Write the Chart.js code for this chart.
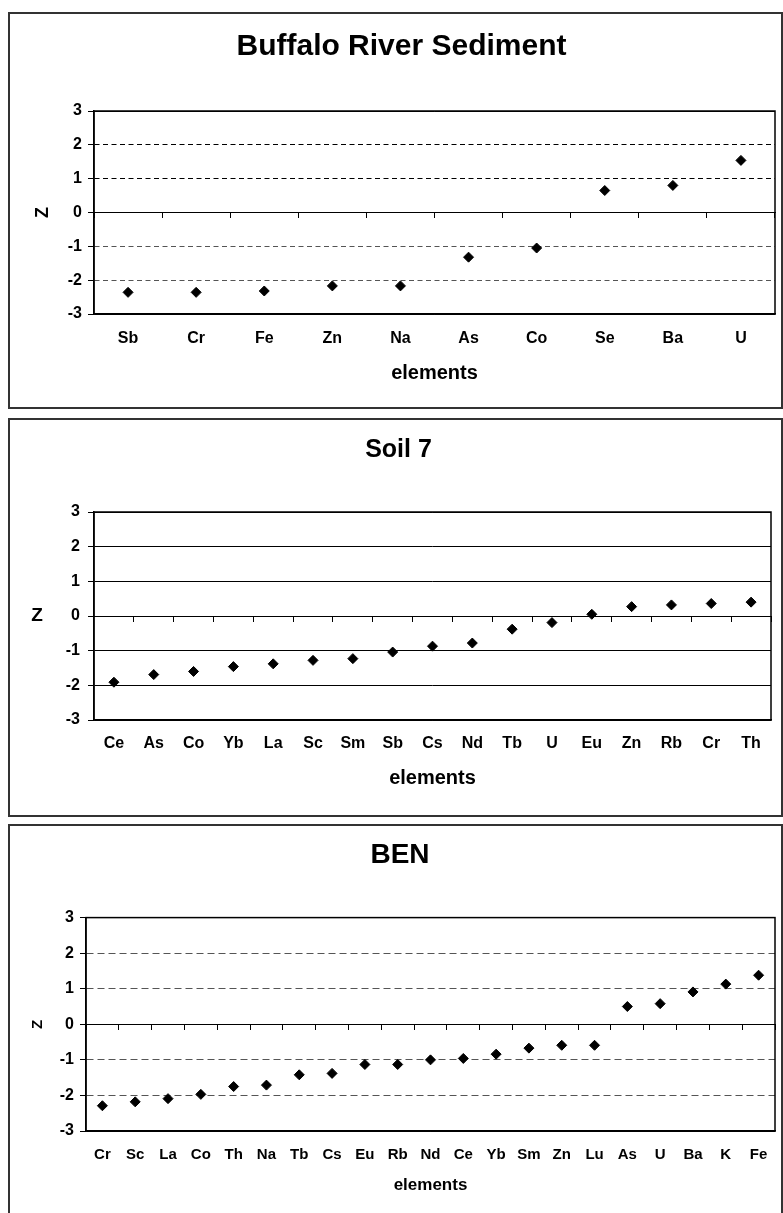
<!DOCTYPE html>
<html>
<head>
<meta charset="utf-8">
<title>Z-scores by element</title>
<script src="https://cdn.jsdelivr.net/npm/chart.js@4.4.1/dist/chart.umd.min.js"></script>
<style>
  body { margin: 0; background: #fff; width: 783px; height: 1213px; overflow: hidden; position: relative; }
  .panel { position: absolute; left: 8px; width: 775px; border: 2px solid #333; box-sizing: border-box; background: #fff; }
  .panel canvas { display: block; }
</style>
</head>
<body>
<div class="panel" style="top:12px;height:397px"><canvas id="buffaloChart"></canvas></div>
<div class="panel" style="top:418px;height:399px"><canvas id="soilChart"></canvas></div>
<div class="panel" style="top:824px;height:400px"><canvas id="benChart"></canvas></div>

<script>
// Buffalo River Sediment
const buffaloLabels = ['Sb', 'Cr', 'Fe', 'Zn', 'Na', 'As', 'Co', 'Se', 'Ba', 'U'];
const buffaloZ = [-2.36, -2.36, -2.32, -2.17, -2.17, -1.32, -1.05, 0.65, 0.80, 1.54];

// Soil 7
const soilLabels = ['Ce', 'As', 'Co', 'Yb', 'La', 'Sc', 'Sm', 'Sb', 'Cs', 'Nd', 'Tb', 'U', 'Eu', 'Zn', 'Rb', 'Cr', 'Th'];
const soilZ = [-1.91, -1.69, -1.60, -1.46, -1.38, -1.28, -1.23, -1.04, -0.87, -0.78, -0.38, -0.19, 0.05, 0.27, 0.32, 0.36, 0.40];

// BEN
const benLabels = ['Cr', 'Sc', 'La', 'Co', 'Th', 'Na', 'Tb', 'Cs', 'Eu', 'Rb', 'Nd', 'Ce', 'Yb', 'Sm', 'Zn', 'Lu', 'As', 'U', 'Ba', 'K', 'Fe'];
const benZ = [-2.29, -2.18, -2.09, -1.97, -1.75, -1.71, -1.42, -1.38, -1.13, -1.13, -1.00, -0.96, -0.84, -0.67, -0.59, -0.59, 0.50, 0.58, 0.91, 1.13, 1.38];

Chart.defaults.font.family = "'Liberation Sans', Arial, sans-serif";
Chart.defaults.color = '#000';

// cadre de la zone de tracé (style Excel)
const plotFrame = {
    id: 'plotFrame',
    beforeDatasetsDraw(chart) {
        const { ctx, chartArea: a } = chart;
        ctx.save();
        ctx.strokeStyle = '#000';
        ctx.lineWidth = 1.5;
        ctx.strokeRect(a.left, a.top, a.right - a.left, a.bottom - a.top);
        ctx.restore();
    },
};

// titre d'axe Y non pivoté
const uprightYTitle = {
    id: 'uprightYTitle',
    afterDraw(chart, args, opts) {
        if (!opts || !opts.text) return;
        const { ctx, chartArea: a } = chart;
        ctx.save();
        ctx.font = opts.font;
        ctx.fillStyle = '#000';
        ctx.textAlign = 'center';
        ctx.textBaseline = 'middle';
        ctx.fillText(opts.text, chart.scales.y.left + opts.offset, (a.top + a.bottom) / 2);
        ctx.restore();
    },
};

const noSidePadding = s => { s.paddingLeft = 0; s.paddingRight = 0; };

function zChart(canvasId, labels, values, o) {
    const isDashed = ctx => o.dashed && ctx.tick && Math.abs(ctx.tick.value) % 3 !== 0;
    return new Chart(document.getElementById(canvasId), {
        type: 'line',
        data: {
            labels,
            datasets: [{
                data: values,
                showLine: false,
                pointStyle: 'rectRot',
                pointRadius: 5,
                pointHoverRadius: 5,
                pointBorderWidth: 1,
                backgroundColor: '#000',
                borderColor: '#000',
                xAxisID: 'x',
                yAxisID: 'y',
            }],
        },
        options: {
            responsive: true,
            maintainAspectRatio: false,
            animation: false,
            layout: { padding: { left: o.padLeft, right: o.padRight, top: 0, bottom: 0 } },
            plugins: {
                legend: { display: false },
                tooltip: { enabled: false },
                title: {
                    display: true,
                    text: o.title,
                    color: '#000',
                    font: { size: o.titleSize, weight: 'bold' },
                    padding: { top: o.titleTop, bottom: o.titleBottom },
                },
                uprightYTitle: o.uprightZ || {},
            },
            scales: {
                y: {
                    min: -3,
                    max: 3,
                    ticks: { stepSize: 1, color: '#000', font: { size: o.yTickSize, weight: 'bold' }, padding: o.yTickPad },
                    grid: {
                        color: ctx => (isDashed(ctx) ? o.dashColor(ctx.tick.value) : '#000'),
                        lineWidth: 1,
                        tickLength: 6,
                        tickColor: '#000',
                    },
                    border: {
                        color: '#000',
                        width: 1.5,
                        dash: ctx => (isDashed(ctx) ? o.dash : []),
                    },
                    title: {
                        display: !o.uprightZ,
                        text: 'Z',
                        color: '#000',
                        font: { size: o.zSize, weight: 'bold' },
                        padding: { top: o.zPad, bottom: 0 },
                    },
                    afterFit: s => { s.width = o.yWidth; },
                },
                x: {
                    type: 'category',
                    position: { y: 0 },
                    offset: true,
                    ticks: { display: false },
                    grid: { offset: true, drawOnChartArea: false, drawTicks: true, tickLength: 5, color: '#000' },
                    border: { color: '#000', width: 1 },
                    afterFit: noSidePadding,
                },
                xb: {
                    type: 'category',
                    position: 'bottom',
                    offset: true,
                    grid: { display: false, drawTicks: false },
                    border: { display: true, color: '#000', width: 1.5 },
                    ticks: {
                        color: '#000',
                        font: { size: o.xTickSize, weight: 'bold' },
                        padding: o.xTickPad,
                        autoSkip: false,
                        maxRotation: 0,
                    },
                    title: {
                        display: true,
                        text: 'elements',
                        color: '#000',
                        font: { size: o.xTitleSize, weight: 'bold' },
                        padding: { top: 0, bottom: o.xTitlePad },
                    },
                    afterFit: s => { s.height = o.xbHeight; noSidePadding(s); },
                },
            },
        },
        plugins: [plotFrame, uprightYTitle],
    });
}

zChart('buffaloChart', buffaloLabels, buffaloZ, {
    title: 'Buffalo River Sediment', titleSize: 30, titleTop: 15, titleBottom: 46,
    padLeft: 15, padRight: 3, yWidth: 69, yTickSize: 16, yTickPad: 6,
    zSize: 18, zPad: 7, dashed: true, dash: [5, 3.5], dashColor: v => (v > 0 ? '#000' : '#555'),
    xTickSize: 16, xTickPad: 15, xTitleSize: 20, xTitlePad: 22, xbHeight: 93,
});

zChart('soilChart', soilLabels, soilZ, {
    title: 'Soil 7', titleSize: 25, titleTop: 15, titleBottom: 47,
    padLeft: 16, padRight: 10, yWidth: 68, yTickSize: 16, yTickPad: 8,
    uprightZ: { text: 'Z', font: "bold 19px 'Liberation Sans', Arial, sans-serif", offset: 11 },
    dashed: false,
    xTickSize: 16, xTickPad: 14, xTitleSize: 20, xTitlePad: 25, xbHeight: 95,
});

zChart('benChart', benLabels, benZ, {
    title: 'BEN', titleSize: 28, titleTop: 12, titleBottom: 46,
    padLeft: 12, padRight: 3, yWidth: 64, yTickSize: 16, yTickPad: 6,
    zSize: 15, zPad: 7, dashed: true, dash: [7, 4], dashColor: () => '#555',
    xTickSize: 15, xTickPad: 15, xTitleSize: 17, xTitlePad: 26, xbHeight: 91,
});
</script>
</body>
</html>
